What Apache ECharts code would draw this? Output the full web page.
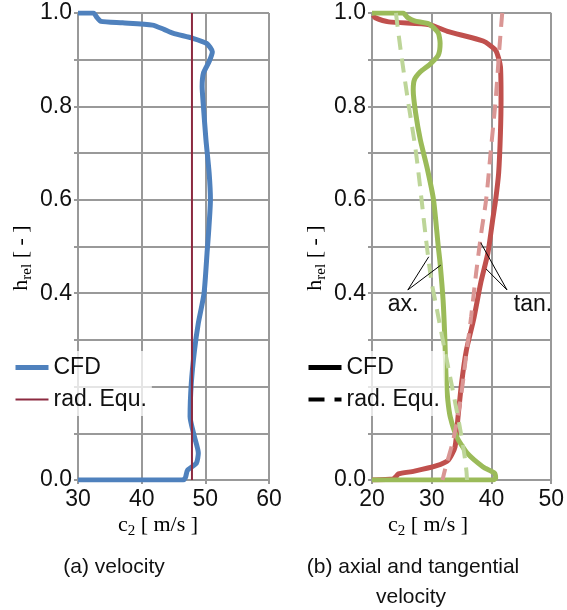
<!DOCTYPE html>
<html>
<head>
<meta charset="utf-8">
<script src="https://cdn.jsdelivr.net/npm/echarts@6/dist/echarts.min.js"></script>
<style>
  html, body { margin: 0; padding: 0; background: #fff; }
  #chart { width: 567px; height: 610px; }
</style>
</head>
<body>
<div id="chart"></div>
<script>
// (a) velocity: [c2, h_rel]
var cfdVelocity = [[30,1.0],[32.4,1.0],[33.0,0.99],[33.6,0.982],[37,0.979],[41.7,0.974],[43.5,0.965],[44.9,0.957],
  [48,0.946],[50.2,0.935],[51.1,0.917],[50.6,0.896],[49.7,0.871],[49.5,0.842],[49.7,0.80],[50.1,0.728],
  [50.6,0.657],[50.8,0.60],[50.5,0.528],[50.3,0.492],[49.8,0.40],[48.9,0.336],[48.3,0.278],[47.8,0.208],
  [47.6,0.136],[48.3,0.092],[48.9,0.058],[48.6,0.036],[47.2,0.021],[46.9,0.006],[46.5,0.0],[30,0.0]];
var radEquVelocity = [[47.9,0.0],[47.9,1.0]];

// (b) axial and tangential velocity
var axCfd = [[20,1.0],[25.2,1.0],[26,0.99],[27.1,0.983],[29.6,0.976],[31.1,0.957],[31.4,0.935],[31.1,0.91],
  [29.6,0.889],[28.1,0.874],[27.1,0.857],[26.9,0.835],[27.3,0.786],[28.1,0.728],[29.2,0.67],[30.3,0.60],
  [31.1,0.499],[31.4,0.464],[31.9,0.385],[32.2,0.3],[32.4,0.22],[32.7,0.17],[33.1,0.135],[34.2,0.092],
  [35.9,0.058],[38.6,0.028],[40.5,0.015],[40.7,0.004],[40.2,0.0],[20,0.0]];
var tanCfd = [[20,0.0],[23.5,0.002],[24.0,0.007],[24.4,0.013],[27.1,0.019],[30.7,0.030],[32.8,0.043],
  [33.9,0.071],[34.4,0.135],[35.0,0.208],[35.8,0.278],[37.0,0.343],[38.2,0.422],[39.4,0.486],[40.2,0.557],
  [40.7,0.60],[41.2,0.657],[41.5,0.743],[41.6,0.814],[41.5,0.885],[40.7,0.92],[38.6,0.94],[32.8,0.96],
  [29.6,0.975],[22.8,0.981],[20.5,0.99],[20.2,0.995]];
var axRadEqu = [[24.0,1.0],[24.8,0.92],[26.0,0.814],[27.3,0.707],[28.3,0.6],[29.0,0.52],[29.9,0.43],
  [30.8,0.37],[32.0,0.29],[33.4,0.2],[34.6,0.12],[35.4,0.06],[35.8,0.02],[35.9,0.0]];
var tanRadEqu = [[41.8,1.0],[41.3,0.92],[40.7,0.814],[39.9,0.707],[39.1,0.60],[38.3,0.53],[37.4,0.44],
  [36.6,0.35],[35.7,0.26],[34.8,0.17],[33.6,0.086],[32.3,0.026],[31.8,0.0]];

// leader lines for the "ax." / "tan." labels
var axLeaders = [[[26.0,0.407],[29.5,0.478]],[[26.0,0.407],[31.5,0.46]]];
var tanLeaders = [[[42.6,0.407],[38.2,0.508]],[[42.6,0.407],[39.1,0.452]]];

// y labels shown (0.2 sits under the legend in the original)
var yLabels = ['0.0', '0.4', '0.6', '0.8', '1.0'];

var font = 'Liberation Sans';
var serif = 'Liberation Serif';
var gridColor = '#999';

function yAxis(idx) {
  return {
    type: 'value', gridIndex: idx, min: 0, max: 1, interval: 0.1,
    axisLine: { show: true, lineStyle: { color: gridColor, width: 2 } },
    axisTick: { show: true, length: 4, lineStyle: { color: gridColor, width: 2 } },
    splitLine: { show: true, lineStyle: { color: gridColor, width: 2 } },
    axisLabel: {
      fontFamily: font, fontSize: 23, color: '#111', margin: 6,
      formatter: function (v) { var s = v.toFixed(1); return yLabels.indexOf(s) >= 0 ? s : ''; }
    }
  };
}
function xAxis(idx, mn, mx) {
  return {
    type: 'value', gridIndex: idx, min: mn, max: mx, interval: 10,
    axisLine: { show: true, lineStyle: { color: gridColor, width: 2 } },
    axisTick: { show: true, length: 4, lineStyle: { color: gridColor, width: 2 } },
    splitLine: { show: true, lineStyle: { color: gridColor, width: 2 } },
    axisLabel: { fontFamily: font, fontSize: 23, color: '#111', margin: 8 }
  };
}
function leaders(list) {
  return {
    silent: true, symbol: ['none', 'none'], animation: false,
    label: { show: false },
    lineStyle: { color: '#000', width: 1, type: 'solid' },
    data: list.map(function (p) { return [{ coord: p[0] }, { coord: p[1] }]; })
  };
}

var subRich = {
  n: { fontFamily: serif, fontSize: 22, color: '#111', lineHeight: 28, verticalAlign: 'middle' },
  s: { fontFamily: serif, fontSize: 15, color: '#111', lineHeight: 14, verticalAlign: 'bottom' }
};
var capStyle = { fontFamily: font, fontSize: 21, fill: '#111', align: 'center', verticalAlign: 'middle' };
var noSymbol = { opacity: 0, borderWidth: 0 };

var chart = echarts.init(document.getElementById('chart'));
chart.setOption({
  animation: false,
  grid: [
    { left: 78, top: 13, width: 191, height: 467 },
    { left: 372, top: 13, width: 190, height: 467 }
  ],
  xAxis: [xAxis(0, 30, 60), xAxis(1, 20, 50)],
  yAxis: [yAxis(0), yAxis(1)],
  legend: [
    {
      orient: 'vertical', left: 8, top: 351, itemWidth: 33, itemHeight: 14, itemGap: 9,
      backgroundColor: 'rgba(255,255,255,0.75)', selectedMode: false,
      textStyle: { fontFamily: font, fontSize: 23, color: '#111' },
      data: [
        { name: 'CFD', itemStyle: noSymbol, lineStyle: { color: '#4F81BD', width: 5 } },
        { name: 'rad. Equ.', itemStyle: noSymbol, lineStyle: { color: '#8C2A40', width: 2 } }
      ]
    },
    {
      orient: 'vertical', left: 301, top: 351, itemWidth: 33, itemHeight: 14, itemGap: 9,
      backgroundColor: 'rgba(255,255,255,0.75)', selectedMode: false,
      textStyle: { fontFamily: font, fontSize: 23, color: '#111' },
      data: [
        { name: 'CFD', itemStyle: noSymbol, lineStyle: { color: '#000', width: 5, type: 'solid' } },
        { name: 'rad. Equ.', itemStyle: noSymbol, lineStyle: { color: '#000', width: 4, type: [16, 10] } }
      ]
    }
  ],
  series: [
    { name: 'CFD', type: 'line', xAxisIndex: 0, yAxisIndex: 0, data: cfdVelocity, showSymbol: false, symbol: 'none',
      smooth: 0.2, lineStyle: { color: '#4F81BD', width: 5, join: 'round' }, itemStyle: { color: '#4F81BD' } },
    { name: 'rad. Equ.', type: 'line', xAxisIndex: 0, yAxisIndex: 0, data: radEquVelocity, symbol: 'none',
      lineStyle: { color: '#8C2A40', width: 2 }, itemStyle: { color: '#8C2A40' } },
    { name: 'tan. CFD', type: 'line', xAxisIndex: 1, yAxisIndex: 1, data: tanCfd, symbol: 'none', smooth: 0.2,
      lineStyle: { color: '#C0504D', width: 5, join: 'round' }, markLine: leaders(tanLeaders) },
    { name: 'ax. CFD', type: 'line', xAxisIndex: 1, yAxisIndex: 1, data: axCfd, symbol: 'none', smooth: 0.2,
      lineStyle: { color: '#9BBB59', width: 5, join: 'round' }, markLine: leaders(axLeaders) },
    { name: 'tan. rad. Equ.', type: 'line', xAxisIndex: 1, yAxisIndex: 1, data: tanRadEqu, symbol: 'none', smooth: 0.3,
      lineStyle: { color: '#DA9694', width: 4, type: [14, 9] } },
    { name: 'ax. rad. Equ.', type: 'line', xAxisIndex: 1, yAxisIndex: 1, data: axRadEqu, symbol: 'none', smooth: 0.3,
      lineStyle: { color: '#BDD598', width: 4, type: [14, 9] } }
  ],
  graphic: [
    { type: 'text', x: 21, y: 258, rotation: Math.PI / 2,
      style: { text: '{n|h}{s|rel}{n| [ - ]}', rich: subRich, align: 'center', verticalAlign: 'middle' } },
    { type: 'text', x: 315, y: 258, rotation: Math.PI / 2,
      style: { text: '{n|h}{s|rel}{n| [ - ]}', rich: subRich, align: 'center', verticalAlign: 'middle' } },
    { type: 'text', x: 158, y: 525,
      style: { text: '{n|c}{s|2}{n| [ m/s ]}', rich: subRich, align: 'center', verticalAlign: 'middle' } },
    { type: 'text', x: 428, y: 525,
      style: { text: '{n|c}{s|2}{n| [ m/s ]}', rich: subRich, align: 'center', verticalAlign: 'middle' } },
    { type: 'text', x: 403, y: 305, style: { text: 'ax.', fontFamily: font, fontSize: 23, fill: '#111', align: 'center', verticalAlign: 'middle' } },
    { type: 'text', x: 533, y: 305, style: { text: 'tan.', fontFamily: font, fontSize: 23, fill: '#111', align: 'center', verticalAlign: 'middle' } },
    { type: 'text', x: 114, y: 567, style: Object.assign({ text: '(a) velocity' }, capStyle) },
    { type: 'text', x: 413, y: 567, style: Object.assign({ text: '(b) axial and tangential' }, capStyle) },
    { type: 'text', x: 411, y: 597, style: Object.assign({ text: 'velocity' }, capStyle) }
  ]
});
</script>
</body>
</html>
